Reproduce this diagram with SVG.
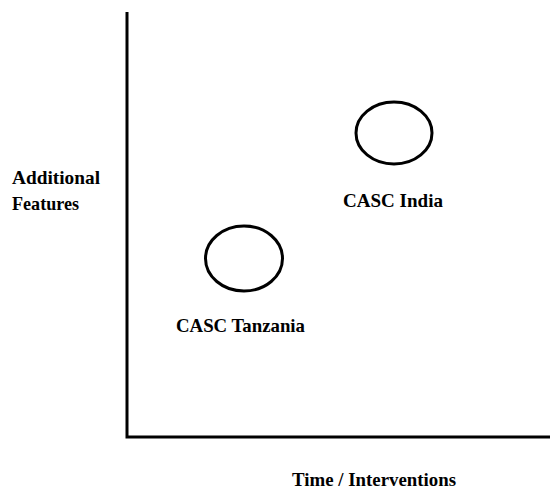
<svg xmlns="http://www.w3.org/2000/svg" width="550" height="489" viewBox="0 0 550 489">
<style>
.t{font-family:"Liberation Serif","Times New Roman",serif;font-weight:bold;font-size:19px;fill:#000}
.n{fill:none;stroke:#000;stroke-width:3}
</style>
<rect width="550" height="489" fill="#fff"/>
<g id="axes">
<path class="n" d="M127,12 V437 H550"/>
</g>
<g id="node-tanzania">
<ellipse class="n" cx="244" cy="258.5" rx="38.5" ry="32.5"/>
<text class="t" x="176" y="332" textLength="129" lengthAdjust="spacingAndGlyphs">CASC Tanzania</text>
</g>
<g id="node-india">
<ellipse class="n" cx="394" cy="133" rx="38" ry="31"/>
<text class="t" x="343" y="207" textLength="100" lengthAdjust="spacingAndGlyphs">CASC India</text>
</g>
<g id="y-label">
<text class="t" x="12" y="184" textLength="88" lengthAdjust="spacingAndGlyphs">Additional</text>
<text class="t" x="12" y="210" textLength="67" lengthAdjust="spacingAndGlyphs">Features</text>
</g>
<g id="x-label">
<text class="t" x="292" y="486" textLength="164" lengthAdjust="spacingAndGlyphs">Time / Interventions</text>
</g>
</svg>
